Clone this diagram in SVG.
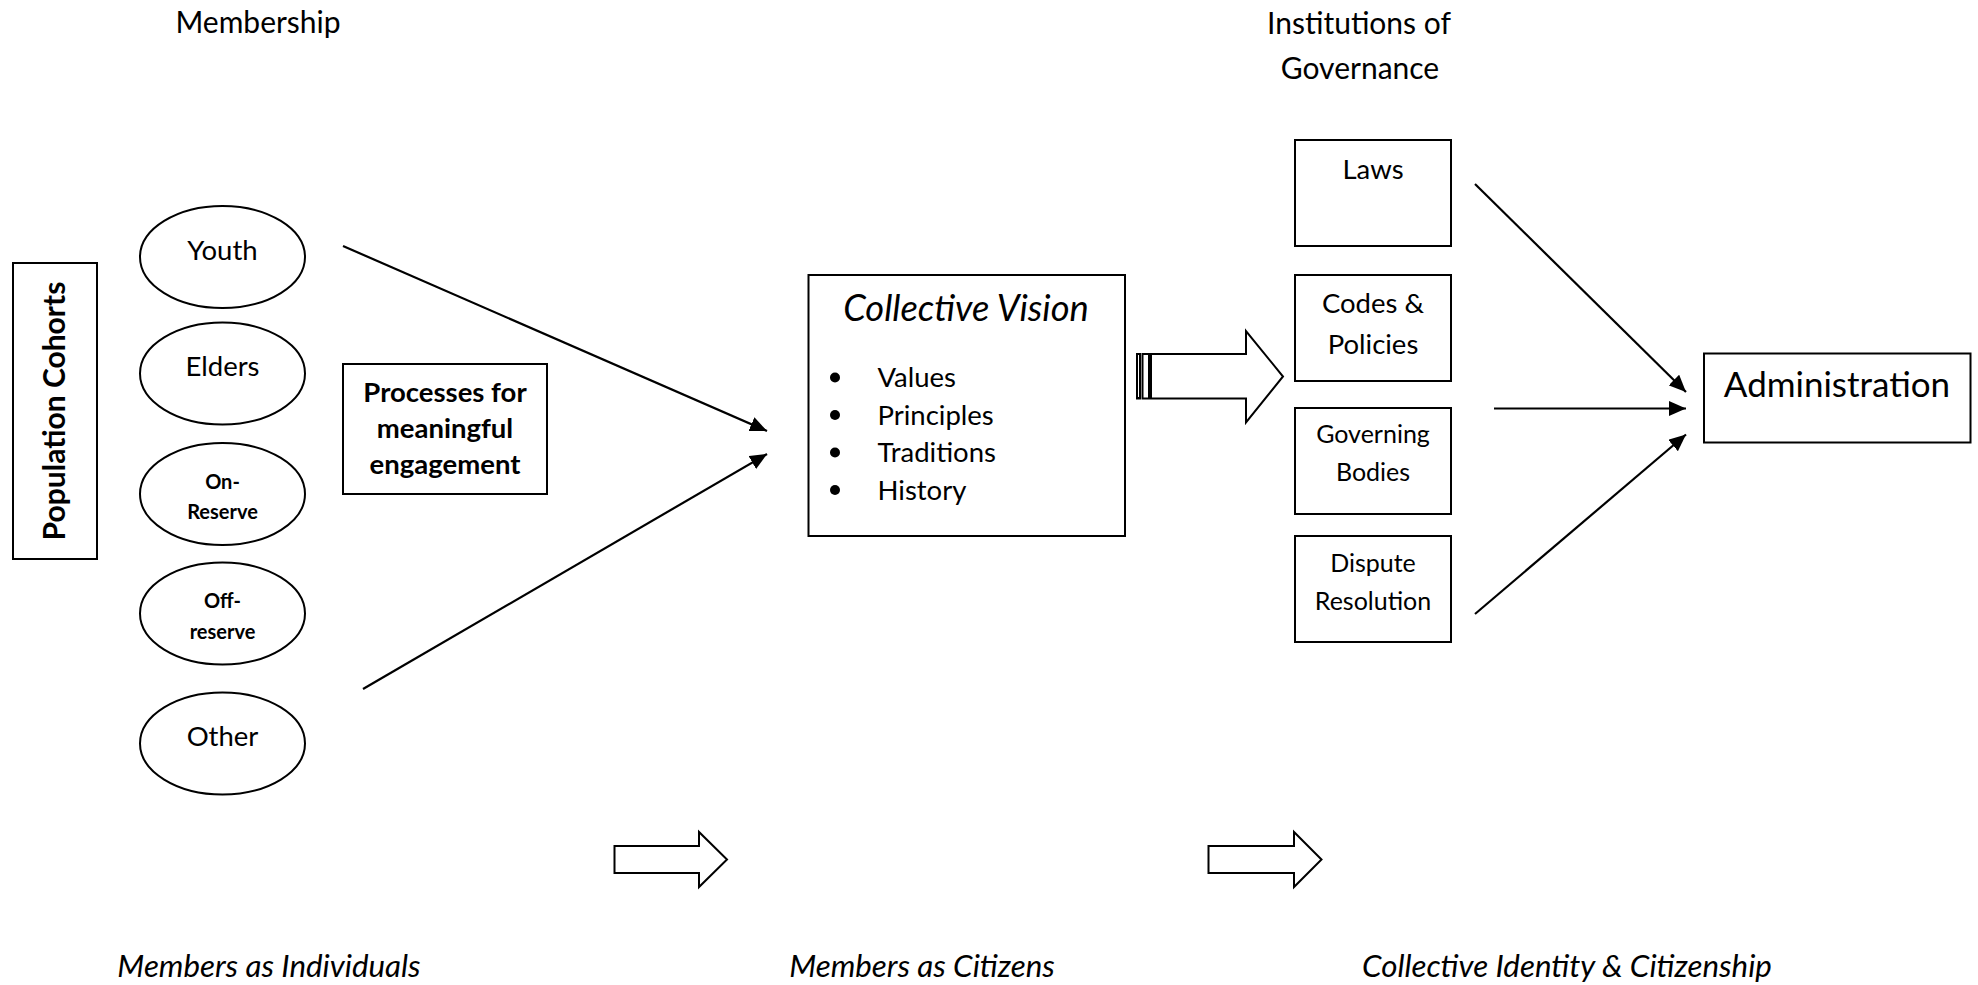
<svg xmlns="http://www.w3.org/2000/svg" width="1978" height="985" viewBox="0 0 1978 985">
<defs>
<style>
text { font-family: Lato, "Liberation Sans", sans-serif; fill: #000; }
.t12 { font-size: 30px; }
.ti { font-size: 31.3px; font-style: italic; }
.t11 { font-size: 27.5px; }
.t10 { font-size: 25px; }
.t14 { font-size: 35px; }
.t14i { font-size: 36.3px; font-style: italic; }
.tb { font-size: 20px; font-weight: bold; }
.b { font-weight: bold; }
.c { text-anchor: middle; }
.shape { fill: #fff; stroke: #000; stroke-width: 2; }
.conn { stroke: #000; stroke-width: 2.2; fill: none; }
</style>
<marker id="ah" markerWidth="17" markerHeight="15" refX="17" refY="7.5" orient="auto" markerUnits="userSpaceOnUse">
<path d="M0,0 L17,7.5 L0,15 z" fill="#000"/>
</marker>
</defs>
<rect width="1978" height="985" fill="#fff"/>

<g id="labels">
<text class="t12 c" x="258" y="33">Membership</text>
<text class="t12 c" x="1359" y="34">Institutions of</text>
<text class="t12 c" x="1360" y="79">Governance</text>
<text class="ti c" x="269" y="977">Members as Individuals</text>
<text class="ti c" x="922" y="977">Members as Citizens</text>
<text class="ti c" x="1567" y="977">Collective Identity &amp; Citizenship</text>
</g>

<g id="population-cohorts">
<rect class="shape" x="13" y="263" width="84" height="296"/>
<text class="t12 b c" transform="translate(65,411) rotate(-90)">Population Cohorts</text>
</g>

<g id="youth">
<ellipse class="shape" cx="222.5" cy="257" rx="82.5" ry="51"/>
<text class="t11 c" x="222.5" y="260">Youth</text>
</g>
<g id="elders">
<ellipse class="shape" cx="222.5" cy="373.5" rx="82.5" ry="51"/>
<text class="t11 c" x="222.5" y="376">Elders</text>
</g>
<g id="on-reserve">
<ellipse class="shape" cx="222.5" cy="494" rx="82.5" ry="51"/>
<text class="tb c" x="222.5" y="489">On-</text>
<text class="tb c" x="222.5" y="519">Reserve</text>
</g>
<g id="off-reserve">
<ellipse class="shape" cx="222.5" cy="613.5" rx="82.5" ry="51"/>
<text class="tb c" x="222.5" y="608">Off-</text>
<text class="tb c" x="222.5" y="639">reserve</text>
</g>
<g id="other">
<ellipse class="shape" cx="222.5" cy="743.5" rx="82.5" ry="51"/>
<text class="t11 c" x="222.5" y="746">Other</text>
</g>

<g id="processes">
<rect class="shape" x="343" y="364" width="204" height="130"/>
<text class="t11 b c" x="445" y="402">Processes for</text>
<text class="t11 b c" x="445" y="438">meaningful</text>
<text class="t11 b c" x="445" y="474">engagement</text>
</g>

<g id="collective-vision">
<rect class="shape" x="808.5" y="275" width="316.5" height="261"/>
<text class="t14i c" x="966" y="321">Collective Vision</text>
<circle cx="835" cy="377.5" r="5"/>
<circle cx="835" cy="415" r="5"/>
<circle cx="835" cy="452.5" r="5"/>
<circle cx="835" cy="490" r="5"/>
<text class="t11" x="877.5" y="387">Values</text>
<text class="t11" x="877.5" y="424.5">Principles</text>
<text class="t11" x="877.5" y="462">Traditions</text>
<text class="t11" x="877.5" y="499.5">History</text>
</g>

<g id="laws">
<rect class="shape" x="1295" y="140" width="156" height="106"/>
<text class="t11 c" x="1373" y="179">Laws</text>
</g>
<g id="codes-policies">
<rect class="shape" x="1295" y="275" width="156" height="106"/>
<text class="t11 c" x="1373" y="313">Codes &amp;</text>
<text class="t11 c" x="1373" y="353.5">Policies</text>
</g>
<g id="governing-bodies">
<rect class="shape" x="1295" y="408" width="156" height="106"/>
<text class="t10 c" x="1373" y="443">Governing</text>
<text class="t10 c" x="1373" y="481">Bodies</text>
</g>
<g id="dispute-resolution">
<rect class="shape" x="1295" y="536" width="156" height="106"/>
<text class="t10 c" x="1373" y="572">Dispute</text>
<text class="t10 c" x="1373" y="610">Resolution</text>
</g>

<g id="administration">
<rect class="shape" x="1704" y="353.5" width="266.5" height="89"/>
<text class="t14 c" x="1837" y="397">Administration</text>
</g>

<g id="connectors">
<line class="conn" x1="343" y1="246" x2="767" y2="431" marker-end="url(#ah)"/>
<line class="conn" x1="363" y1="689" x2="767" y2="454" marker-end="url(#ah)"/>
<line class="conn" x1="1475" y1="184" x2="1686" y2="392" marker-end="url(#ah)"/>
<line class="conn" x1="1494" y1="408.5" x2="1686" y2="408.5" marker-end="url(#ah)"/>
<line class="conn" x1="1475" y1="614" x2="1686" y2="434.5" marker-end="url(#ah)"/>
<rect class="shape" x="1137" y="354" width="3" height="44.5"/>
<rect class="shape" x="1142.5" y="354" width="6.5" height="44.5"/>
<path class="shape" d="M1151,354 L1246,354 L1246,331 L1283,376.5 L1246,422.5 L1246,398.5 L1151,398.5 Z"/>
<path class="shape" d="M614.5,846 L699,846 L699,832 L727,859.5 L699,887 L699,873 L614.5,873 Z"/>
<path class="shape" d="M1208.5,846 L1294,846 L1294,832 L1321.5,859.5 L1294,887 L1294,873 L1208.5,873 Z"/>
</g>
</svg>
